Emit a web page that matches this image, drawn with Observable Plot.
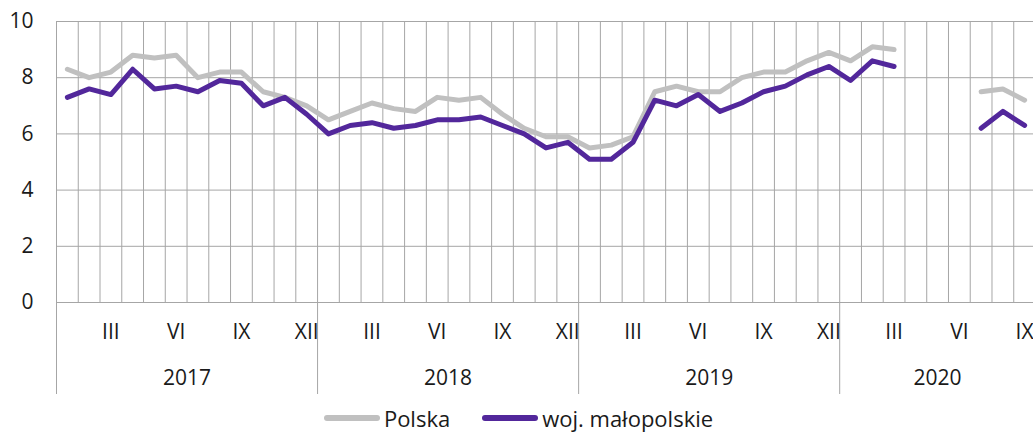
<!DOCTYPE html>
<html><head><meta charset="utf-8">
<script src="https://cdn.jsdelivr.net/npm/d3@7"></script>
<script src="https://cdn.jsdelivr.net/npm/@observablehq/plot@0.6"></script>
<style>
body{margin:0;background:#fff;overflow:hidden;font-family:"Open Sans",sans-serif;}
#legend{display:flex;justify-content:center;align-items:center;height:28px;font-size:22px;color:#1a1a1a;padding-left:4px;}
.item{display:flex;align-items:center;}
.sw{display:inline-block;width:56px;height:6px;border-radius:3px;margin-right:4px;}
</style></head><body>
<div id="chart"></div><div id="legend"></div>
<script>
const monthNames = ["I","II","III","IV","V","VI","VII","VIII","IX","X","XI","XII"];
const years = [2017, 2018, 2019, 2020];
const seriesNames = ["Polska", "woj. małopolskie"];
const seriesColors = ["#c0c0c0", "#52279b"];
const yTicks = [0, 2, 4, 6, 8, 10];
const polska = [8.3,8.0,8.2,8.8,8.7,8.8,8.0,8.2,8.2,7.5,7.3,7.0,
                6.5,6.8,7.1,6.9,6.8,7.3,7.2,7.3,6.7,6.2,5.9,5.9,
                5.5,5.6,5.9,7.5,7.7,7.5,7.5,8.0,8.2,8.2,8.6,8.9,
                8.6,9.1,9.0,null,null,null,7.5,7.6,7.2];
const malopolskie = [7.3,7.6,7.4,8.3,7.6,7.7,7.5,7.9,7.8,7.0,7.3,6.7,
                     6.0,6.3,6.4,6.2,6.3,6.5,6.5,6.6,6.3,6.0,5.5,5.7,
                     5.1,5.1,5.7,7.2,7.0,7.4,6.8,7.1,7.5,7.7,8.1,8.4,
                     7.9,8.6,8.4,null,null,null,6.2,6.8,6.3];

const rows = polska.map((v, i) => ({i, year: years[Math.floor(i / 12)], month: monthNames[i % 12], polska: v, malo: malopolskie[i]}));
const n = rows.length;
const yearGroups = years.map(y => {
  const idx = rows.filter(r => r.year === y).map(r => r.i);
  return {year: y, start: d3.min(idx), end: d3.max(idx) + 1};
});
const boundaries = [...yearGroups.map(g => g.start), n];
const monthTicks = rows.filter(r => (r.i % 12) % 3 === 2);
const grid = "#a6a6a6";
const font = "'Open Sans', sans-serif";

const chart = Plot.plot({
  width: 1033, height: 404,
  marginLeft: 56, marginRight: 0, marginTop: 21, marginBottom: 102,
  style: {fontFamily: font, fontSize: "21px", color: "#1a1a1a", background: "white"},
  x: {type: "linear", domain: [0, n], range: [56, 1035], axis: null},
  y: {domain: [0, 10], axis: null},
  marks: [
    Plot.ruleX(d3.range(0, n + 1), {y1: 0, y2: 10, stroke: grid, strokeWidth: 1}),
    Plot.ruleY(yTicks, {stroke: grid, strokeWidth: 1}),
    Plot.axisY(yTicks, {anchor: "left", tickSize: 0, tickPadding: 23, fontSize: 21, fontFamily: font, tickFormat: d => String(d)}),
    Plot.axisX(boundaries, {anchor: "bottom", tickSize: 92, tickFormat: () => "", stroke: grid}),
    Plot.text(monthTicks, {x: d => d.i + 0.5, frameAnchor: "bottom", dy: 30, text: "month", fontSize: 21, fontFamily: font, lineAnchor: "middle"}),
    Plot.text(yearGroups, {x: d => (d.start + d.end) / 2, frameAnchor: "bottom", dy: 76, text: d => String(d.year), fontSize: 21, fontFamily: font, lineAnchor: "middle"}),
    Plot.line(rows, {x: d => d.i + 0.5, y: "polska", stroke: seriesColors[0], strokeWidth: 5, strokeLinejoin: "round", strokeLinecap: "round"}),
    Plot.line(rows, {x: d => d.i + 0.5, y: "malo", stroke: seriesColors[1], strokeWidth: 5, strokeLinejoin: "round", strokeLinecap: "round"})
  ]
});
document.getElementById("chart").appendChild(chart);

const legend = document.getElementById("legend");
seriesNames.forEach((name, k) => {
  const item = document.createElement("span");
  item.className = "item";
  if (k === 0) item.style.marginRight = "32px";
  const sw = document.createElement("span");
  sw.className = "sw";
  sw.style.background = seriesColors[k];
  item.appendChild(sw);
  item.appendChild(document.createTextNode(name));
  legend.appendChild(item);
});
</script></body></html>
